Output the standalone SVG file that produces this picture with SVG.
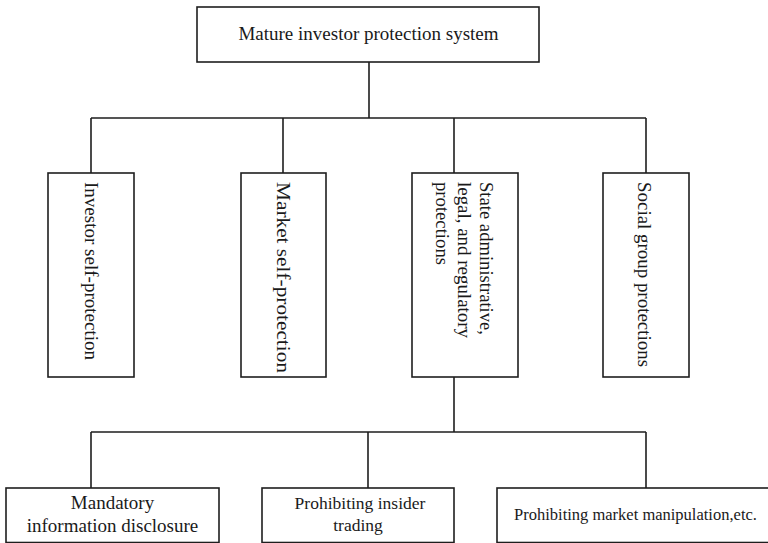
<svg xmlns="http://www.w3.org/2000/svg" width="768" height="543" viewBox="0 0 768 543">
  <style>
    .box { fill: #ffffff; stroke: #1e1e1e; stroke-width: 1.6; }
    .wire { fill: none; stroke: #1e1e1e; stroke-width: 1.6; }
    text { font-family: "Liberation Serif", "Times New Roman", serif; fill: #1a1a1a; }
    .top { font-size: 19px; text-anchor: middle; }
    .side { font-size: 19px; }
    .leaf { font-size: 19px; text-anchor: middle; }
    .leaf-s { font-size: 17.5px; text-anchor: middle; }
    .leaf-xs { font-size: 16.5px; text-anchor: middle; }
  </style>
  <rect width="768" height="543" fill="#ffffff"/>

  <!-- connectors -->
  <g id="connectors">
    <path class="wire" d="M369 62 V118 M91 118 H646 M91 118 V173 M283 118 V173 M454 118 V173 M646 118 V173"/>
    <path class="wire" d="M454 377 V432 M91 432 H646 M91 432 V488 M368 432 V488 M646 432 V488"/>
  </g>

  <!-- root -->
  <g id="root">
    <rect class="box" x="197" y="7" width="342" height="55"/>
    <text class="top" x="368.5" y="40">Mature investor protection system</text>
  </g>

  <!-- second level, vertical labels -->
  <g id="investor-self">
    <rect class="box" x="48" y="173" width="86" height="204"/>
    <text class="side" transform="translate(85,182) rotate(90)" textLength="178" lengthAdjust="spacingAndGlyphs">Investor self-protection</text>
  </g>
  <g id="market-self">
    <rect class="box" x="241" y="173" width="85" height="204"/>
    <text class="side" transform="translate(277,182) rotate(90)" textLength="191" lengthAdjust="spacingAndGlyphs">Market self-protection</text>
  </g>
  <g id="state-protections">
    <rect class="box" x="412" y="173" width="106" height="204"/>
    <text class="side" transform="translate(480,182) rotate(90)" textLength="153" lengthAdjust="spacingAndGlyphs">State administrative,</text>
    <text class="side" transform="translate(458,182) rotate(90)" textLength="156" lengthAdjust="spacingAndGlyphs">legal, and regulatory</text>
    <text class="side" transform="translate(436,182) rotate(90)" textLength="83" lengthAdjust="spacingAndGlyphs">protections</text>
  </g>
  <g id="social-group">
    <rect class="box" x="603" y="173" width="86" height="204"/>
    <text class="side" transform="translate(638,182) rotate(90)" textLength="185" lengthAdjust="spacingAndGlyphs">Social group protections</text>
  </g>

  <!-- third level -->
  <g id="disclosure">
    <rect class="box" x="6" y="488" width="213" height="54.5"/>
    <text class="leaf" x="112.5" y="509">Mandatory</text>
    <text class="leaf" x="112.5" y="532">information disclosure</text>
  </g>
  <g id="insider-trading">
    <rect class="box" x="262" y="488" width="192" height="54.5"/>
    <text class="leaf-s" x="360" y="509">Prohibiting insider</text>
    <text class="leaf-s" x="358" y="531">trading</text>
  </g>
  <g id="manipulation">
    <rect class="box" x="497" y="488" width="290" height="54.5"/>
    <text class="leaf-xs" x="635.5" y="520">Prohibiting market manipulation,etc.</text>
  </g>
</svg>
